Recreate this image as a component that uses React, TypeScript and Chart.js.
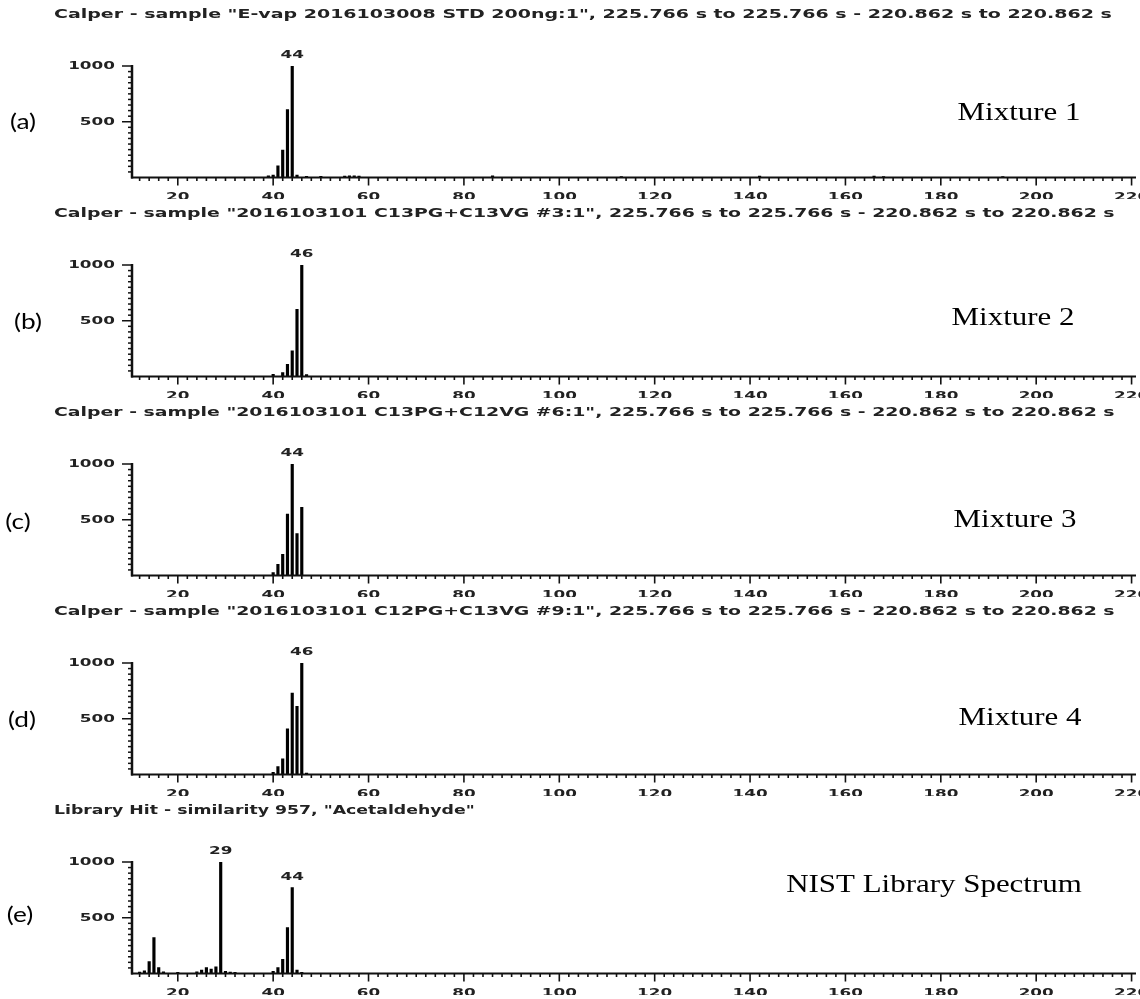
import React, { useEffect, useRef } from "react";
import { Chart, registerables } from "chart.js";

Chart.register(...registerables);

// ---- data ----------------------------------------------------------------

const TITLES = [
  'Calper - sample "E-vap 2016103008 STD 200ng:1", 225.766 s to 225.766 s - 220.862 s to 220.862 s',
  'Calper - sample "2016103101 C13PG+C13VG #3:1", 225.766 s to 225.766 s - 220.862 s to 220.862 s',
  'Calper - sample "2016103101 C13PG+C12VG #6:1", 225.766 s to 225.766 s - 220.862 s to 220.862 s',
  'Calper - sample "2016103101 C12PG+C13VG #9:1", 225.766 s to 225.766 s - 220.862 s to 220.862 s',
  'Library Hit - similarity 957, "Acetaldehyde"',
];
const PANEL_LETTERS = ["(a)", "(b)", "(c)", "(d)", "(e)"];
const SAMPLE_NAMES = ["Mixture 1", "Mixture 2", "Mixture 3", "Mixture 4", "NIST Library Spectrum"];

const X_TICKS = [20, 40, 60, 80, 100, 120, 140, 160, 180, 200, 220];
const Y_TICKS = [500, 1000];

// m/z values and relative intensities of each spectrum
const MZ_A = [39, 40, 41, 42, 43, 44, 45, 47, 50, 55, 56, 57, 58, 86, 113, 142, 166, 168, 193];
const INT_A = [15, 22, 104, 247, 610, 1000, 22, 10, 10, 12, 15, 15, 12, 15, 8, 12, 12, 8, 8];

const MZ_B = [40, 42, 43, 44, 45, 46, 47];
const INT_B = [20, 35, 110, 230, 603, 1000, 18];

const MZ_C = [40, 41, 42, 43, 44, 45, 46];
const INT_C = [27, 100, 190, 550, 1000, 376, 612];

const MZ_D = [40, 41, 42, 43, 44, 45, 46, 47];
const INT_D = [20, 70, 140, 410, 730, 612, 1000, 12];

const MZ_E = [12, 13, 14, 15, 16, 17, 20, 24, 25, 26, 27, 28, 29, 30, 31, 32, 40, 41, 42, 43, 44, 45, 46];
const INT_E = [12, 25, 107, 322, 54, 15, 10, 15, 30, 54, 40, 60, 1000, 20, 12, 10, 20, 54, 128, 412, 770, 30, 10];

// base peaks that carry an m/z label
const PEAKS_A = [44];
const PEAKS_B = [46];
const PEAKS_C = [44];
const PEAKS_D = [46];
const PEAKS_E = [29, 44];

const SPECTRA = [
  { mz: MZ_A, intensity: INT_A, peaks: PEAKS_A },
  { mz: MZ_B, intensity: INT_B, peaks: PEAKS_B },
  { mz: MZ_C, intensity: INT_C, peaks: PEAKS_C },
  { mz: MZ_D, intensity: INT_D, peaks: PEAKS_D },
  { mz: MZ_E, intensity: INT_E, peaks: PEAKS_E },
];

// ---- layout & style -------------------------------------------------------

const WIDTH = 1140;
const PANEL_H = 199;
const PANEL_TOPS = [0, 199, 398, 597, 796];
const X_MIN = 10.4;
const X_MAX = 220.3;
const Y_MAX = 1000;

const LETTER_POS = [
  [23, 122],
  [28, 123],
  [18, 124],
  [22, 123],
  [20, 119],
];
const NAME_POS = [
  [1019, 113],
  [1013, 119],
  [1015, 122],
  [1020, 121],
  [934, 89],
];

const INK = "#111";
const TEXT_INK = "#222";
const TITLE_FONT = "bold 13px 'DejaVu Sans'";
const TITLE_SX = [1.46, 1.45, 1.45, 1.45, 1.33];
const TICK_FONT = "bold 11px 'DejaVu Sans'";
const TICK_SX = 1.53;
const LETTER_FONT = "21px Lato";
const LETTER_SX = 1.25;
const NAME_FONT = "26px 'Liberation Serif'";
const NAME_SX = 1.19;

type Align = "left" | "center" | "right";

function stretchedText(
  ctx: CanvasRenderingContext2D,
  text: string,
  x: number,
  y: number,
  font: string,
  sx: number,
  align: Align,
  color: string
) {
  ctx.save();
  ctx.font = font;
  ctx.fillStyle = color;
  ctx.textBaseline = "middle";
  ctx.textAlign = "left";
  const w = ctx.measureText(text).width * sx;
  const left = align === "left" ? x : align === "center" ? x - w / 2 : x - w;
  ctx.translate(left, y);
  ctx.scale(sx, 1);
  ctx.fillText(text, 0, 0);
  ctx.restore();
}

function line(ctx: CanvasRenderingContext2D, x1: number, y1: number, x2: number, y2: number) {
  ctx.beginPath();
  ctx.moveTo(x1, y1);
  ctx.lineTo(x2, y2);
  ctx.stroke();
}

// Axes, ticks, labels and annotations drawn on top of the bars
function decorations(index: number) {
  return {
    id: "spectrumDecorations" + index,
    afterDraw(chart: any) {
      const { ctx, scales } = chart;
      const xs = scales.x;
      const ys = scales.y;
      const spec = SPECTRA[index];
      const x0 = xs.getPixelForValue(X_MIN);
      const x1 = xs.getPixelForValue(X_MAX);
      const y0 = ys.getPixelForValue(0);
      const yTop = ys.getPixelForValue(Y_MAX);

      ctx.save();
      ctx.strokeStyle = INK;
      ctx.lineCap = "butt";

      // y axis and its ticks
      ctx.lineWidth = 2.5;
      line(ctx, x0, y0 + 1, x0, yTop - 1);
      ctx.lineWidth = 1.5;
      for (let v = 50; v <= Y_MAX; v += 50) {
        const py = ys.getPixelForValue(v);
        const major = Y_TICKS.includes(v);
        line(ctx, x0 - (major ? 10 : 4), py, x0, py);
      }

      // x axis and its ticks
      ctx.lineWidth = 2;
      line(ctx, x0 - 1, y0, x1 + 3, y0);
      ctx.lineWidth = 1.6;
      for (let v = 12; v <= X_MAX; v += 2) {
        const px = xs.getPixelForValue(v);
        const major = X_TICKS.includes(v);
        line(ctx, px, y0, px, y0 + (major ? 8 : 3.5));
      }
      ctx.restore();

      // tick labels
      X_TICKS.forEach((v) => {
        stretchedText(ctx, String(v), xs.getPixelForValue(v), y0 + 19.5, TICK_FONT, TICK_SX, "center", TEXT_INK);
      });
      Y_TICKS.forEach((v) => {
        stretchedText(ctx, String(v), x0 - 17, ys.getPixelForValue(v), TICK_FONT, TICK_SX, "right", TEXT_INK);
      });

      // peak labels above the base peaks
      spec.peaks.forEach((mz) => {
        const k = spec.mz.indexOf(mz);
        const top = ys.getPixelForValue(spec.intensity[k]);
        stretchedText(ctx, String(mz), xs.getPixelForValue(mz), top - 11, TICK_FONT, TICK_SX, "center", TEXT_INK);
      });

      // header line
      stretchedText(ctx, TITLES[index], 54, 15, TITLE_FONT, TITLE_SX[index], "left", TEXT_INK);

      // panel letter and sample name
      const [lx, ly] = LETTER_POS[index];
      stretchedText(ctx, PANEL_LETTERS[index], lx, ly, LETTER_FONT, LETTER_SX, "center", "#000");
      const [nx, ny] = NAME_POS[index];
      stretchedText(ctx, SAMPLE_NAMES[index], nx, ny, NAME_FONT, NAME_SX, "center", "#000");
    },
  };
}

function SpectrumPanel({ index }: { index: number }) {
  const ref = useRef<HTMLCanvasElement>(null);

  useEffect(() => {
    const spec = SPECTRA[index];
    const chart = new Chart(ref.current as HTMLCanvasElement, {
      type: "bar",
      data: {
        datasets: [
          {
            data: spec.mz.map((m, i) => ({ x: m, y: spec.intensity[i] })),
            backgroundColor: "#000",
            borderWidth: 0,
            barThickness: 2.5,
          } as any,
        ],
      },
      options: {
        responsive: false,
        animation: false,
        events: [],
        layout: { padding: { left: 132, right: 7, top: 66, bottom: PANEL_H - 177.5 } },
        scales: {
          x: { type: "linear", min: X_MIN, max: X_MAX, offset: false, display: false },
          y: { type: "linear", min: 0, max: Y_MAX, display: false },
        },
        plugins: {
          legend: { display: false },
          tooltip: { enabled: false },
          title: { display: false },
        },
      },
      plugins: [decorations(index)],
    });
    return () => chart.destroy();
  }, [index]);

  return (
    <canvas
      ref={ref}
      width={WIDTH}
      height={PANEL_H}
      style={{ position: "absolute", left: 0, top: PANEL_TOPS[index], display: "block" }}
    />
  );
}

export default function App() {
  return (
    <div
      style={{
        position: "absolute",
        left: 0,
        top: 0,
        width: WIDTH,
        height: 999,
        background: "#fff",
        overflow: "hidden",
      }}
    >
      {SPECTRA.map((_, i) => (
        <SpectrumPanel key={i} index={i} />
      ))}
    </div>
  );
}
